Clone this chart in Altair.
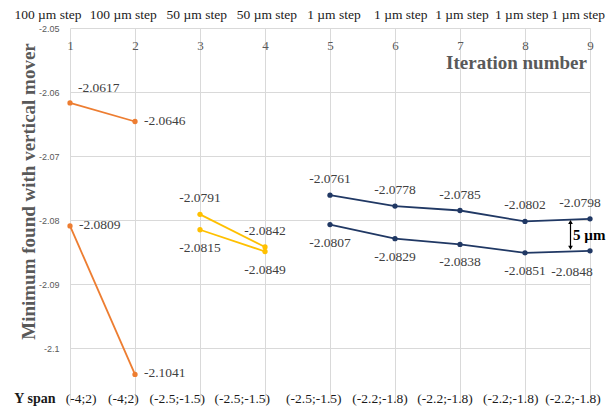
import altair as alt
import pandas as pd

# ---- data ----
series_names = ["100a", "100b", "50a", "50b", "1a", "1b"]
series_group = ["100", "100", "50", "50", "1", "1"]
series_iter = [[1, 2], [1, 2], [3, 4], [3, 4], [5, 6, 7, 8, 9], [5, 6, 7, 8, 9]]
series_vals = [
    [-2.0617, -2.0646],
    [-2.0809, -2.1041],
    [-2.0791, -2.0842],
    [-2.0815, -2.0849],
    [-2.0761, -2.0778, -2.0785, -2.0802, -2.0798],
    [-2.0807, -2.0829, -2.0838, -2.0851, -2.0848],
]
label_side = [
    ["above-right", "right"],
    ["right", "right"],
    ["above", "above"],
    ["below", "below"],
    ["above", "above", "above", "above", "above-left"],
    ["below", "below", "below", "below", "below-left"],
]

step_labels = ["100 µm step", "100 µm step", "50 µm step", "50 µm step",
               "1 µm step", "1 µm step", "1 µm step", "1 µm step", "1 µm step"]
step_label_pos = [0.66, 1.82, 2.95, 4.03, 5.06, 6.09, 7.03, 7.95, 8.82]

span_labels = ["(-4;2)", "(-4;2)", "(-2.5;-1.5)", "(-2.5;-1.5)", "(-2.5;-1.5)",
               "(-2.2;-1.8)", "(-2.2;-1.8)", "(-2.2;-1.8)", "(-2.2;-1.8)"]
span_label_pos = [1.17, 1.82, 2.65, 3.65, 4.75, 5.77, 6.77, 7.78, 8.74]
span_title_pos = [0.46]

y_ticks = [-2.05, -2.06, -2.07, -2.08, -2.09, -2.1]
x_ticks = [1, 2, 3, 4, 5, 6, 7, 8, 9]

arrow_iter = [8.7]
arrow_top = [-2.0803]
arrow_bottom = [-2.0843]
arrow_text_iter = [8.74]
arrow_text_val = [-2.0823]

# ---- tables ----
rows = []
for name, grp, its, vals, sides in zip(series_names, series_group, series_iter, series_vals, label_side):
    for it, v, s in zip(its, vals, sides):
        rows.append({"series": name, "group": grp, "iter": it, "val": v,
                     "side": s, "label": f"{v:.4f}"})
df = pd.DataFrame(rows)

steps_df = pd.DataFrame({"iter": step_label_pos, "label": step_labels})
span_df = pd.DataFrame({"iter": span_label_pos, "label": span_labels})
span_title_df = pd.DataFrame({"iter": span_title_pos, "label": ["Y span"]})
arrow_df = pd.DataFrame({"iter": arrow_iter, "val": arrow_top, "val2": arrow_bottom})
arrow_top_df = pd.DataFrame({"iter": arrow_iter, "val": arrow_top})
arrow_bot_df = pd.DataFrame({"iter": arrow_iter, "val": arrow_bottom})
arrow_text_df = pd.DataFrame({"iter": arrow_text_iter, "val": arrow_text_val, "label": ["5 µm"]})

W, H = 520, 374
SERIF = "Liberation Serif"
GRID = "#D9D9D9"

xscale = alt.Scale(domain=[1, 9], nice=False)
yscale = alt.Scale(domain=[-2.1084, -2.05], nice=False, zero=False)
color_scale = alt.Scale(domain=["100", "50", "1"], range=["#ED7D31", "#FFC000", "#203864"])

x_axis = alt.Axis(
    orient="top", values=x_ticks, format="d", grid=True, gridColor=GRID, domain=False, ticks=False,
    labelFont=SERIF, labelFontSize=13, labelColor="#595959", labelPadding=-17,
    labelBaseline="middle", labelFlush=False,
    title="Iteration number", titleFont=SERIF, titleFontSize=19, titleFontWeight="bold",
    titleColor="#595959", titleX=446, titleY=34, titleBaseline="middle", titleAlign="center",
)
y_axis = alt.Axis(
    orient="left", values=y_ticks, grid=True, gridColor=GRID, domain=False, ticks=False,
    labelFont="Liberation Sans", labelFontSize=9, labelColor="#595959", labelPadding=11,
    labelExpr="replace(format(datum.value, '.2~f'), '\u2212', '-')",
    title="Minimum found with vertical mover", titleFont=SERIF, titleFontSize=19,
    titleFontWeight="bold", titleColor="#595959", titleX=-42, titleY=163,
    titleBaseline="middle", titleAlign="center", titleAngle=-90,
)

X = alt.X("iter:Q", scale=xscale)
Y = alt.Y("val:Q", scale=yscale)

lines = alt.Chart(df).mark_line(strokeWidth=1.8).encode(
    x=alt.X("iter:Q", scale=xscale, axis=x_axis),
    y=alt.Y("val:Q", scale=yscale, axis=y_axis),
    color=alt.Color("group:N", scale=color_scale, legend=None),
    detail="series:N",
)
points = alt.Chart(df).mark_point(filled=True, size=28, opacity=1, shape="circle").encode(
    x=X, y=Y, color=alt.Color("group:N", scale=color_scale, legend=None),
)

def labels(side, **kw):
    return alt.Chart(df).transform_filter(alt.datum.side == side).mark_text(
        font=SERIF, fontSize=13.5, color="#404040", baseline="middle", **kw
    ).encode(x=X, y=Y, text="label:N")

lab_right = labels("right", align="left", dx=9, dy=-1)
lab_above_right = labels("above-right", align="left", dx=8, dy=-15)
lab_above = labels("above", align="center", dy=-16)
lab_below = labels("below", align="center", dy=18)
lab_above_left = labels("above-left", align="center", dx=-10, dy=-16)
lab_below_left = labels("below-left", align="center", dx=-18, dy=21)

step_text = alt.Chart(steps_df).mark_text(
    font=SERIF, fontSize=13.5, color="#1a1a1a", baseline="middle", align="center"
).encode(x=X, y=alt.value(-13), text="label:N")

span_text = alt.Chart(span_df).mark_text(
    font=SERIF, fontSize=13.5, color="#1a1a1a", baseline="middle", align="center"
).encode(x=X, y=alt.value(H - 3), text="label:N")

span_title = alt.Chart(span_title_df).mark_text(
    font=SERIF, fontSize=14, fontWeight="bold", color="#1a1a1a", baseline="middle", align="center"
).encode(x=X, y=alt.value(H - 3), text="label:N")

arrow_rule = alt.Chart(arrow_df).mark_rule(color="black", strokeWidth=1.2).encode(
    x=X, y=Y, y2="val2:Q",
)
arrow_up = alt.Chart(arrow_top_df).mark_point(shape="triangle-up", filled=True, size=22,
                                              color="black", opacity=1).encode(x=X, y=Y)
arrow_down = alt.Chart(arrow_bot_df).mark_point(shape="triangle-down", filled=True, size=22,
                                                color="black", opacity=1).encode(x=X, y=Y)
arrow_text = alt.Chart(arrow_text_df).mark_text(
    font=SERIF, fontSize=15, fontWeight="bold", color="black", align="left", baseline="middle"
).encode(x=X, y=Y, text="label:N")

chart = alt.layer(
    lines, points,
    lab_right, lab_above_right, lab_above, lab_below, lab_above_left, lab_below_left,
    step_text, span_text, span_title,
    arrow_rule, arrow_up, arrow_down, arrow_text,
).properties(
    width=W, height=H,
    autosize=alt.AutoSizeParams(type="none"),
    padding={"left": 62, "top": 20, "right": 16, "bottom": 7},
    background="white",
).configure_view(stroke=None)

chart.save("out.html", embed_options={"renderer": "svg", "actions": False})
